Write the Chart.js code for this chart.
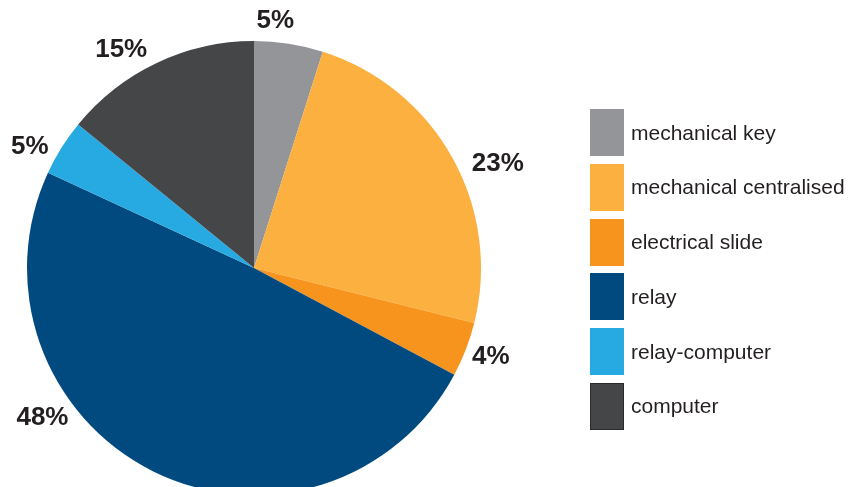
<!DOCTYPE html>
<html>
<head>
<meta charset="utf-8">
<script src="https://cdn.jsdelivr.net/npm/chart.js@4/dist/chart.umd.min.js"></script>
<style>
  html, body { margin: 0; padding: 0; background: #ffffff; overflow: hidden; }
  #wrap { position: relative; width: 853px; height: 487px; overflow: hidden; }
  #box { position: absolute; left: 0; top: 0; width: 853px; height: 536px; }
  #legend { position: absolute; left: 590px; top: 109px; font-family: "Liberation Sans", Arial, sans-serif; font-size: 21px; color: #231f20; }
  .item { display: flex; align-items: center; height: 47px; margin-bottom: 7.8px; }
  .sw { width: 34px; height: 47px; box-sizing: border-box; margin-right: 7px; }
</style>
</head>
<body>
<div id="wrap">
  <div id="box"><canvas id="c"></canvas></div>
  <div id="legend"></div>
</div>
<script>
// Data
const categories = ["mechanical key", "mechanical centralised", "electrical slide", "relay", "relay-computer", "computer"];
const shares = [4.9, 24.0, 3.9, 49.1, 4.0, 14.1];
const shareLabels = ["5%", "23%", "4%", "48%", "5%", "15%"];
const colors = ["#939598", "#fbb040", "#f7941d", "#004a80", "#27aae1", "#444648"];

// Label placement (style config): angular shift from slice middle (deg) and distance from centre (px)
const labelShift = [-3.9, 6.1, -0.5, 28.3, -3.6, -6.0];
const labelDist = [248, 265, 253, 259, 255, 255];

const pctLabels = {
  id: 'pctLabels',
  afterDatasetsDraw(chart) {
    const ctx = chart.ctx;
    const meta = chart.getDatasetMeta(0);
    ctx.save();
    ctx.font = 'bold 26px "Liberation Sans", Arial, sans-serif';
    ctx.fillStyle = '#231f20';
    ctx.textAlign = 'center';
    ctx.textBaseline = 'middle';
    meta.data.forEach((arc, i) => {
      const p = arc.getProps(['x', 'y', 'startAngle', 'endAngle'], true);
      const mid = (p.startAngle + p.endAngle) / 2 + labelShift[i] * Math.PI / 180;
      const x = p.x + Math.cos(mid) * labelDist[i];
      const y = p.y + Math.sin(mid) * labelDist[i];
      ctx.fillText(shareLabels[i], x, y);
    });
    ctx.restore();
  }
};

new Chart(document.getElementById('c'), {
  type: 'pie',
  data: {
    labels: categories,
    datasets: [{
      data: shares,
      backgroundColor: colors,
      borderWidth: 0
    }]
  },
  options: {
    responsive: true,
    maintainAspectRatio: false,
    animation: false,
    layout: { padding: { left: 27, right: 372, top: 41, bottom: 41 } },
    plugins: {
      legend: { display: false },
      tooltip: { enabled: false }
    }
  },
  plugins: [pctLabels]
});

// HTML legend built from the arrays
const legend = document.getElementById('legend');
categories.forEach((name, i) => {
  const item = document.createElement('div');
  item.className = 'item';
  const sw = document.createElement('div');
  sw.className = 'sw';
  sw.style.background = colors[i];
  if (i === categories.length - 1) sw.style.border = '1.5px solid #2b2b2d';
  const t = document.createElement('span');
  t.textContent = name;
  item.appendChild(sw);
  item.appendChild(t);
  legend.appendChild(item);
});
</script>
</body>
</html>
